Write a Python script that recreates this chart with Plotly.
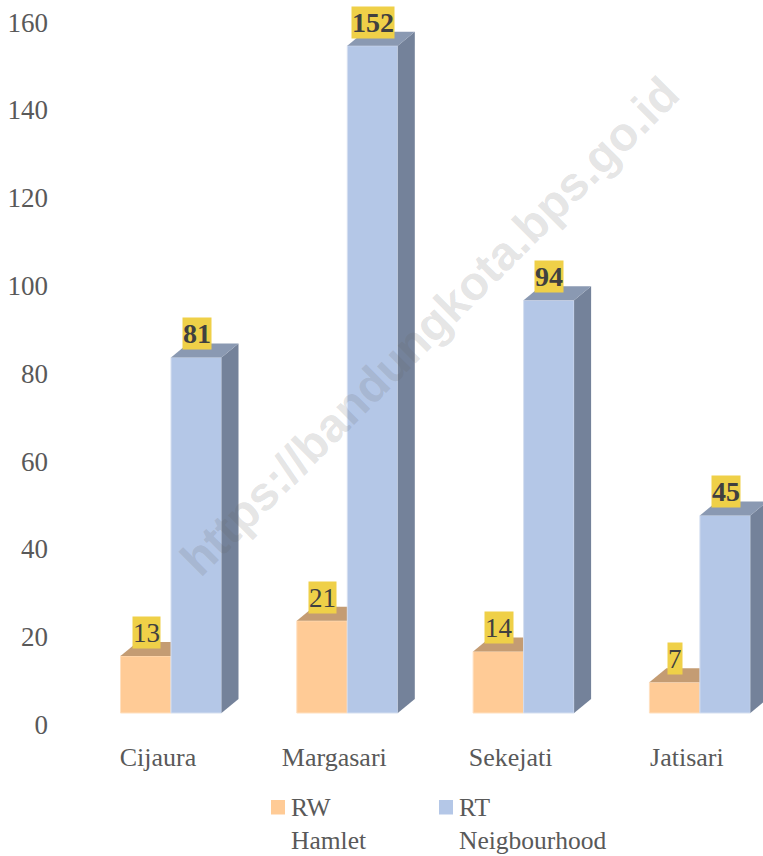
import plotly.graph_objects as go

categories = ["Cijaura", "Margasari", "Sekejati", "Jatisari"]
rw_values = [13, 21, 14, 7]
rt_values = [81, 152, 94, 45]
y_ticks = [0, 20, 40, 60, 80, 100, 120, 140, 160]
legend_rows = [("RW", "Hamlet"), ("RT", "Neigbourhood")]
watermark = "https://bandungkota.bps.go.id"

W, H = 763, 856
LEFT = 48
PX_Y = 4.39
PX_X = 176.3
BASE_PX = 713
LABEL_BASE_PX = 724.5
ZERO_X_PX = 171
BAR = 50.5 / PX_X
DX = 17 / PX_X
DY = 14 / PX_Y
FONT = "Liberation Serif"
TEXT = "#595959"
LABEL_BG = "#EFD048"

RW_FRONT, RW_TOP, RW_SIDE = "#FFCB96", "#C49C73", "#A88560"
RT_FRONT, RT_TOP, RT_SIDE = "#B4C7E7", "#8A99B2", "#74829A"

x_range = [(LEFT - ZERO_X_PX) / PX_X, (W - ZERO_X_PX) / PX_X]
y_range = [(BASE_PX - H) / PX_Y, BASE_PX / PX_Y]
y2_range = [(LABEL_BASE_PX - H) / PX_Y, LABEL_BASE_PX / PX_Y]

fig = go.Figure()
xs = list(range(len(categories)))


def faces(x0, x1, v, top, side, xa, ya):
    fig.add_trace(go.Scatter(
        x=[x1, x1 + DX, x1 + DX, x1, x1], y=[0, DY, v + DY, v, 0], xaxis=xa, yaxis=ya,
        fill="toself", fillcolor=side, mode="none", showlegend=False, hoverinfo="skip"))
    fig.add_trace(go.Scatter(
        x=[x0, x0 + DX, x1 + DX, x1, x0], y=[v, v + DY, v + DY, v, v], xaxis=xa, yaxis=ya,
        fill="toself", fillcolor=top, mode="none", showlegend=False, hoverinfo="skip"))


# RW on the base axes; RT on an overlay pair so its bars sit above the RW faces
for i in xs:
    faces(i - BAR, i, rw_values[i], RW_TOP, RW_SIDE, "x", "y")
fig.add_trace(go.Bar(x=[i - BAR / 2 for i in xs], y=rw_values, width=BAR, name="RW Hamlet",
                     marker=dict(color=RW_FRONT, line=dict(color="#FFE0C0", width=1))))
for i in xs:
    faces(i, i + BAR, rt_values[i], RT_TOP, RT_SIDE, "x3", "y3")
fig.add_trace(go.Bar(x=[i + BAR / 2 for i in xs], y=rt_values, width=BAR, name="RT Neigbourhood",
                     xaxis="x3", yaxis="y3",
                     marker=dict(color=RT_FRONT, line=dict(color="#D5DFF0", width=1))))

# tick-label carrier axes: same scale as the bars, shifted as in the 3D original
fig.add_trace(go.Scatter(x=xs, y=[0] * 4, xaxis="x2", yaxis="y2",
                         mode="none", showlegend=False, hoverinfo="skip"))

ann = [dict(text="<b>%s</b>" % watermark, x=(429 - ZERO_X_PX) / PX_X, y=(BASE_PX - 326) / PX_Y,
            xref="x", yref="y", showarrow=False, textangle=-45,
            font=dict(family="Liberation Sans", size=47.5, color="rgba(100,100,100,0.18)"))]
LABEL_UP = 23.7 / PX_Y
NUDGE = 0.5 / PX_X
for i in xs:
    ann.append(dict(text=str(rw_values[i]), x=i - BAR / 2 + NUDGE, y=rw_values[i] + LABEL_UP,
                    xref="x", yref="y", showarrow=False, bgcolor=LABEL_BG, height=31, borderpad=0,
                    font=dict(family=FONT, size=27, color="#404040")))
    ann.append(dict(text="<b>%d</b>" % rt_values[i], x=i + BAR / 2 + NUDGE, y=rt_values[i] + LABEL_UP,
                    xref="x", yref="y", showarrow=False, bgcolor=LABEL_BG, height=31, borderpad=0,
                    font=dict(family=FONT, size=28, color="#404040")))

# legend: swatch aligned with the first of two text lines
shapes = []
legend_x = [(271, 291), (439, 459)]
for (line1, line2), (sx, tx), col in zip(legend_rows, legend_x, (RW_FRONT, RT_FRONT)):
    shapes.append(dict(type="rect", xref="paper", yref="paper", layer="above", line_width=0, fillcolor=col,
                       x0=(sx - LEFT) / (W - LEFT), x1=(sx + 14 - LEFT) / (W - LEFT),
                       y0=1 - 814.5 / H, y1=1 - 800 / H))
    for txt, py in ((line1, 807), (line2, 840)):
        ann.append(dict(text=txt, xref="paper", yref="paper", showarrow=False,
                        x=(tx - LEFT) / (W - LEFT), y=1 - py / H, xanchor="left", yanchor="middle",
                        borderpad=0, borderwidth=0,
                        font=dict(family=FONT, size=25.5, color=TEXT)))

tick_shift = 13 / PX_X
fig.update_layout(
    width=W, height=H, margin=dict(l=LEFT, r=0, t=0, b=0, autoexpand=False),
    paper_bgcolor="white", plot_bgcolor="rgba(0,0,0,0)",
    barmode="overlay", showlegend=False, annotations=ann, shapes=shapes,
    font=dict(family=FONT, size=26, color=TEXT),
    xaxis=dict(range=x_range, visible=False, fixedrange=True),
    yaxis=dict(range=y_range, visible=False, fixedrange=True),
    xaxis3=dict(overlaying="x", range=x_range, visible=False, fixedrange=True),
    yaxis3=dict(overlaying="y", range=y_range, visible=False, fixedrange=True),
    xaxis2=dict(overlaying="x", range=[x_range[0] + tick_shift, x_range[1] + tick_shift],
                type="linear", anchor="free", position=(H - 739) / H,
                tickmode="array", tickvals=xs, ticktext=categories, ticklen=0,
                showgrid=False, showline=False, zeroline=False, fixedrange=True,
                tickfont=dict(family=FONT, size=26, color=TEXT)),
    yaxis2=dict(overlaying="y", range=y2_range, anchor="free", position=0, side="left",
                tickmode="array", tickvals=y_ticks, ticklen=0,
                showgrid=False, showline=False, zeroline=False, fixedrange=True,
                tickfont=dict(family=FONT, size=27, color=TEXT)),
)

fig.write_html("out.html", config={"displayModeBar": False},
               post_script="document.body.style.margin='0';")
